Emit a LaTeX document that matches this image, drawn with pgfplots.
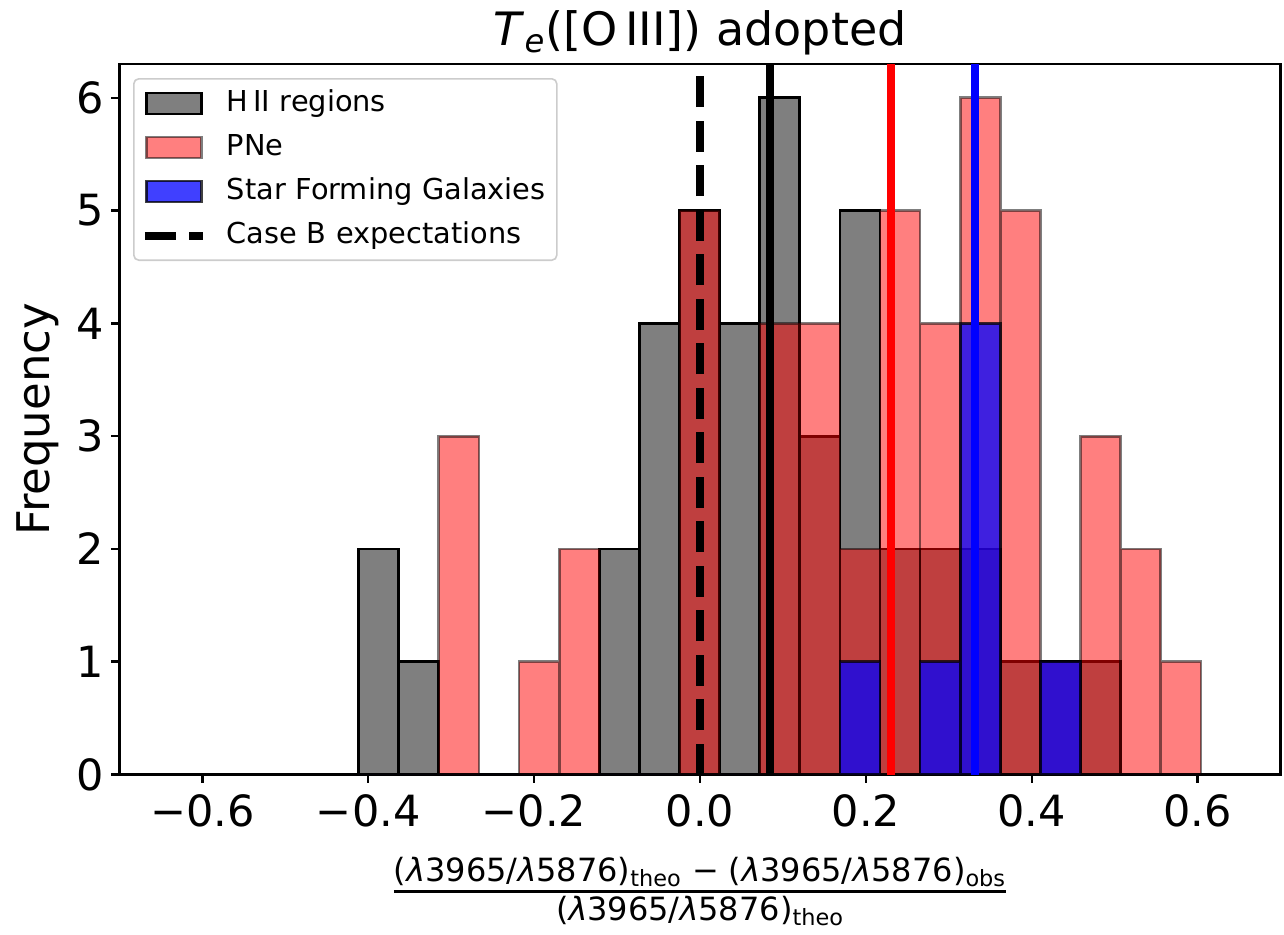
\documentclass[border=0pt]{standalone}
\usepackage{pgfplots}
\usepackage{pgfplotstable}
\pgfplotsset{compat=1.18}
\usepackage{fontspec}
\setmainfont{DejaVu Sans}
\newcommand{\lam}{\textit{λ}}

\pgfplotsset{
  myarea/.style={legend image code/.code={\draw[##1, sharp corners] (0.7pt,-5.25pt) rectangle (28.3pt,5.25pt);}},
  myline/.style={legend image code/.code={\draw[##1, sharp corners] (0pt,0pt) -- (29pt,0pt);}},
}

% bin left edges and counts (last row closes the final bin)
\pgfplotstableread{
x       hii pne sfg
-0.4115 2 0 0
-0.3631 1 0 0
-0.3148 0 3 0
-0.2664 0 0 0
-0.2181 0 1 0
-0.1698 0 2 0
-0.1214 2 0 0
-0.0731 4 0 0
-0.0247 5 5 0
0.0236  4 0 0
0.0720  6 4 0
0.1203  3 4 0
0.1687  5 2 1
0.2170  2 5 0
0.2653  2 4 1
0.3137  2 6 4
0.3620  1 5 0
0.4104  1 1 1
0.4587  1 3 0
0.5071  0 2 0
0.5554  0 1 0
0.6038  0 1 0
}\histdata

\begin{document}
\begin{tikzpicture}
\begin{axis}[
  scale only axis,
  width=580.7pt, height=355.25pt,
  xmin=-0.7, xmax=0.7, ymin=0, ymax=6.3,
  xtick={-0.6,-0.4,-0.2,0,0.2,0.4,0.6},
  xticklabels={−0.6,−0.4,−0.2,0.0,0.2,0.4,0.6},
  ytick={0,1,2,3,4,5,6},
  /pgf/number format/assume math mode=true,
  tick label style={font=\fontsize{21.5}{25}\selectfont},
  xticklabel style={yshift=-2.3pt},
  tick align=outside, tick pos=left,
  major tick length=4pt,
  tick style={black, line width=1.3pt},
  axis line style={line width=1.3pt},
  title={\textit{T}\textsubscript{\textit{e}}([O\,III]) adopted},
  every axis title/.style={at={(axis description cs:0.5,1)}, anchor=base, yshift=9.5pt, font=\fontsize{23}{28}\selectfont},
  xlabel={${\mbox{(\lam3965/\lam5876)\textsubscript{theo} − (\lam3965/\lam5876)\textsubscript{obs}}\above 1.5pt\mbox{(\lam3965/\lam5876)\textsubscript{theo}}}$},
  every axis x label/.style={at={(axis description cs:0.5,0)}, anchor=base, yshift=-62.75pt, font=\fontsize{16}{19}\selectfont},
  ylabel={Frequency},
  every axis y label/.style={at={(axis description cs:-0.07,0.5)}, rotate=90, anchor=center, font=\fontsize{22.5}{27}\selectfont},
  legend cell align=left,
  legend style={at={(axis description cs:0,1)}, anchor=north west, xshift=6.85pt, yshift=-7pt,
    draw=black!20, line width=0.8pt, rounded corners=2.5pt, fill=white,
    font=\fontsize{14.4}{17}\selectfont,
    inner xsep=3.5pt, inner ysep=5.35pt, row sep=8pt, column sep=10pt,
    nodes={inner sep=0pt, text height=11pt, text depth=3pt, text width=161.5pt, align=left}},
]
\addplot[ybar interval, fill=black, fill opacity=0.5, draw=black, draw opacity=1, line width=1.4pt, myarea]
  table[x=x, y=hii] {\histdata};
\addlegendentry{H\,II regions}
\addplot[ybar interval, fill=red, fill opacity=0.5, draw=black, draw opacity=0.5, line width=1.4pt, myarea]
  table[x=x, y=pne] {\histdata};
\addlegendentry{PNe}
\addplot[ybar interval, fill=blue, fill opacity=0.75, draw=black, draw opacity=0.75, line width=1.4pt, myarea]
  table[x=x, y=sfg] {\histdata};
\addlegendentry{Star Forming Galaxies}
\addplot[black, line width=4pt, dash pattern=on 15.5pt off 6.75pt, myline]
  coordinates {(0,0) (0,6.3)};
\addlegendentry{Case B expectations}
\addplot[black, line width=4pt, forget plot] coordinates {(0.0849,0) (0.0849,6.3)};
\addplot[red, line width=4pt, forget plot] coordinates {(0.2304,0) (0.2304,6.3)};
\addplot[blue, line width=4pt, forget plot] coordinates {(0.3314,0) (0.3314,6.3)};
\coordinate (sw) at (rel axis cs:0,0);
\coordinate (ne) at (rel axis cs:1,1);
\end{axis}
\pgfresetboundingbox
\path[use as bounding box] ([shift={(-59.65pt,-79.75pt)}]sw) rectangle ([shift={(1.65pt,32pt)}]ne);
\end{tikzpicture}
\end{document}
